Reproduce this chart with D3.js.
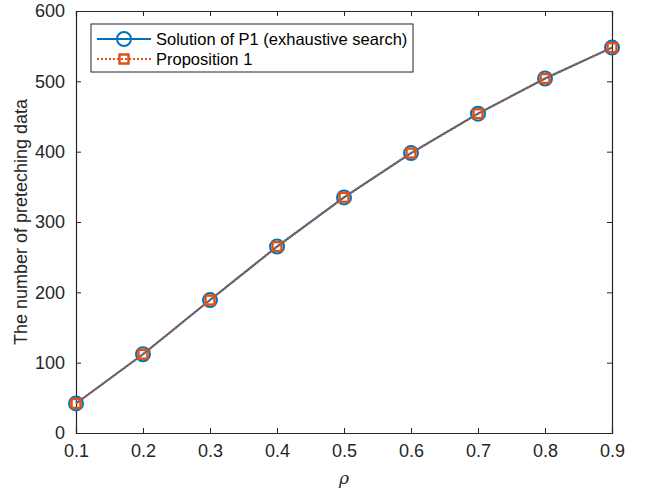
<!DOCTYPE html>
<html lang='en'>
<head>
  <meta charset='UTF-8'>
  <title>Preteching data vs rho</title>
  <style type='text/css'>
    body {
      margin: 0;
      background: #fff;
      font-family: Arial, 'Liberation Sans', sans-serif;
    }
    .tick text {
      font-size: 18px;
      fill: #262626;
    }
    .tick line, .domain {
      stroke: #262626;
    }
  </style>
  <script type='text/javascript' src='https://d3js.org/d3.v7.min.js'></script>
</head>
<body>
  <script type='text/javascript'>
    const rho = [0.1, 0.2, 0.3, 0.4, 0.5, 0.6, 0.7, 0.8, 0.9]
    const exhaustive = [42, 112, 189, 265, 335, 398, 454, 504, 548]
    const proposition = [42, 112, 189, 265, 335, 398, 454, 504, 548]
    const xTicks = [0.1, 0.2, 0.3, 0.4, 0.5, 0.6, 0.7, 0.8, 0.9]
    const yTicks = [0, 100, 200, 300, 400, 500, 600]
    const seriesNames = ['Solution of P1 (exhaustive search)', 'Proposition 1']

    const W = 646, H = 496
    const margin = {top: 11, right: 34, bottom: 63, left: 76}
    const width = W - margin.left - margin.right
    const height = H - margin.top - margin.bottom
    const blue = '#0072BD'
    const orange = '#D95319'

    const svg = d3.select('body').append('svg')
      .attr('width', W)
      .attr('height', H)

    const g = svg.append('g')
      .attr('transform', `translate(${margin.left},${margin.top})`)

    const x = d3.scaleLinear().domain([0.1, 0.9]).range([0, width])
    const y = d3.scaleLinear().domain([0, 600]).range([height, 0])

    // axes with inward ticks, box on all four sides
    g.append('g')
      .attr('transform', `translate(0,${height})`)
      .call(d3.axisBottom(x).tickValues(xTicks).tickSize(-5).tickPadding(11).tickFormat(d3.format('.1f')))
    g.append('g')
      .call(d3.axisTop(x).tickValues(xTicks).tickSize(-5).tickFormat(''))
    g.append('g')
      .call(d3.axisLeft(y).tickValues(yTicks).tickSize(-5).tickPadding(11))
    g.append('g')
      .attr('transform', `translate(${width},0)`)
      .call(d3.axisRight(y).tickValues(yTicks).tickSize(-5).tickFormat(''))
    g.selectAll('.domain').attr('stroke-width', 1.2)
    g.selectAll('.tick text').style('font-family', 'Arial, "Liberation Sans", sans-serif')

    const line = d3.line()
      .x((d, i) => x(rho[i]))
      .y(d => y(d))

    g.append('path')
      .datum(exhaustive)
      .attr('fill', 'none')
      .attr('stroke', blue)
      .attr('stroke-width', 2)
      .attr('d', line)

    g.selectAll('circle.ex')
      .data(exhaustive)
      .enter().append('circle')
      .attr('class', 'ex')
      .attr('cx', (d, i) => x(rho[i]))
      .attr('cy', d => y(d))
      .attr('r', 7)
      .attr('fill', 'none')
      .attr('stroke', blue)
      .attr('stroke-width', 2)

    g.append('path')
      .datum(proposition)
      .attr('fill', 'none')
      .attr('stroke', orange)
      .attr('stroke-width', 2.2)
      .attr('stroke-dasharray', '2,2')
      .attr('d', line)

    g.selectAll('rect.prop')
      .data(proposition)
      .enter().append('rect')
      .attr('class', 'prop')
      .attr('x', (d, i) => x(rho[i]) - 4.5)
      .attr('y', d => y(d) - 4.5)
      .attr('width', 9)
      .attr('height', 9)
      .attr('fill', 'none')
      .attr('stroke', orange)
      .attr('stroke-width', 2.5)

    // axis labels
    svg.append('text')
      .attr('x', margin.left + width / 2)
      .attr('y', 484)
      .attr('text-anchor', 'middle')
      .style('font-family', '"DejaVu Serif", serif')
      .style('font-style', 'italic')
      .style('font-size', '17px')
      .style('fill', '#262626')
      .text('ρ')

    svg.append('text')
      .attr('transform', `translate(27,${margin.top + height / 2}) rotate(-90)`)
      .attr('text-anchor', 'middle')
      .style('font-size', '18px')
      .style('fill', '#262626')
      .text('The number of preteching data')

    // legend
    const legend = svg.append('g').attr('transform', 'translate(91,24)')
    legend.append('rect')
      .attr('width', 322)
      .attr('height', 48)
      .attr('fill', '#fff')
      .attr('stroke', '#262626')
      .attr('stroke-width', 1)

    const rows = legend.selectAll('.legend-row')
      .data(seriesNames)
      .enter().append('g')
      .attr('class', 'legend-row')
      .attr('transform', (d, i) => `translate(0,${15 + i * 20})`)

    rows.append('line')
      .attr('x1', 6).attr('x2', 60)
      .attr('stroke', (d, i) => i === 0 ? blue : orange)
      .attr('stroke-width', (d, i) => i === 0 ? 2 : 2.2)
      .attr('stroke-dasharray', (d, i) => i === 0 ? null : '2,2')

    rows.filter((d, i) => i === 0).append('circle')
      .attr('cx', 33).attr('r', 7)
      .attr('fill', 'none').attr('stroke', blue).attr('stroke-width', 2)

    rows.filter((d, i) => i === 1).append('rect')
      .attr('x', 28.5).attr('y', -4.5).attr('width', 9).attr('height', 9)
      .attr('fill', 'none').attr('stroke', orange).attr('stroke-width', 2.5)

    rows.append('text')
      .attr('x', 65)
      .attr('dy', '0.35em')
      .style('font-size', '16.5px')
      .style('fill', '#000')
      .text(d => d)
  </script>
</body>
</html>
